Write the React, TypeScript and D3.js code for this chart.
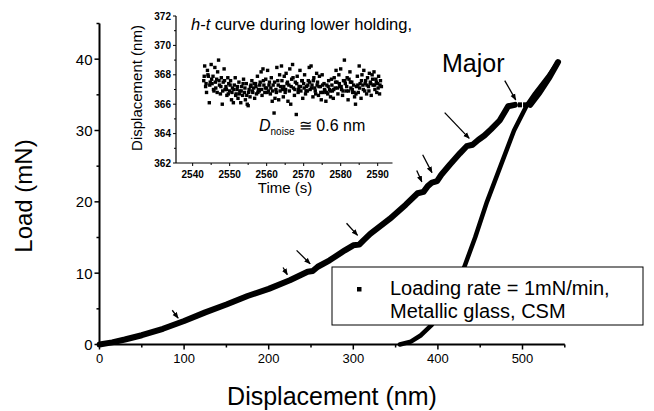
import React from "react";
import * as d3 from "d3";

// ---------- Data ----------
// Main loading curve (displacement nm, load mN)
const loadingPart1: [number, number][] = [
  [0, 0], [15, 0.3], [30, 0.7], [50, 1.3], [75, 2.2], [100, 3.3], [125, 4.5], [150, 5.6],
  [175, 6.8], [200, 7.8], [225, 9.0], [246, 10.2], [252, 10.3], [258, 10.9], [272, 11.8],
  [290, 13.2], [300, 13.9], [307, 14.0], [312, 14.6], [320, 15.5], [343, 17.6], [362, 19.6],
  [376, 21.2], [383, 21.4], [388, 22.2], [393, 22.7], [399, 22.9], [404, 23.8], [414, 25.2],
  [426, 26.8], [434, 27.8], [441, 28.0], [448, 28.7], [455, 29.3], [463, 30.2], [473, 31.4],
  [479, 32.6], [483, 33.4], [491, 33.6],
];
const popInDots: [number, number][] = [[497, 33.6], [503, 33.6]];
const loadingPart2: [number, number][] = [
  [509, 33.6], [520, 35.3], [532, 37.5], [542, 39.6],
];
const unloading: [number, number][] = [
  [542, 39.6], [530, 37.5], [515, 35.2], [505, 33.5], [490, 30.0], [474, 25.0], [458, 20.0],
  [444, 15.0], [431, 10.8], [418, 7.5], [405, 4.8], [393, 2.8], [380, 1.3], [368, 0.4], [355, 0],
];
// Arrows: [tailX, tailY, tipX, tipY] in data units
const arrows: [number, number, number, number][] = [
  [86, 4.8, 93, 3.7],
  [217, 10.8, 222, 9.8],
  [233, 13.2, 249, 11.3],
  [292, 17.0, 305, 15.3],
  [375, 24.4, 381, 22.8],
  [382, 26.6, 393, 24.1],
  [408, 32.5, 437, 28.9],
  [479, 37.0, 492, 34.3],
];
const xTicks = [0, 100, 200, 300, 400, 500];
const xMinorTicks = [50, 150, 250, 350, 450, 550];
const yTicks = [0, 10, 20, 30, 40];
const yMinorTicks = [5, 15, 25, 35, 45];

// Inset: h-t during lower holding (time s, displacement nm)
const noise: [number, number][] = [
  [2543.0, 367.6], [2543.25, 368.6], [2543.5, 367.2], [2543.75, 366.8],
  [2544.0, 368.3], [2544.25, 367.9], [2544.5, 366.1], [2544.75, 367.5],
  [2545.0, 368.7], [2545.25, 367.4], [2545.5, 367.9], [2545.75, 366.9],
  [2546.0, 368.5], [2546.25, 367.1], [2546.5, 367.7], [2546.75, 368.2],
  [2547.0, 369.0], [2547.25, 367.3], [2547.5, 366.7], [2547.75, 367.8],
  [2548.0, 366.0], [2548.25, 367.5], [2548.5, 368.4], [2548.75, 367.0],
  [2549.0, 367.2], [2549.25, 366.6], [2549.5, 367.8], [2549.75, 367.4],
  [2550.0, 366.9], [2550.25, 367.6], [2550.5, 366.3], [2550.75, 367.1],
  [2551.0, 366.1], [2551.25, 367.3], [2551.5, 367.8], [2551.75, 366.7],
  [2552.0, 367.0], [2552.25, 366.4], [2552.5, 367.5], [2552.75, 366.9],
  [2553.0, 366.1], [2553.25, 367.2], [2553.5, 366.6], [2553.75, 367.7],
  [2554.0, 366.8], [2554.25, 366.3], [2554.5, 367.4], [2554.75, 366.0],
  [2555.0, 365.9], [2555.25, 367.0], [2555.5, 366.5], [2555.75, 367.3],
  [2556.0, 367.6], [2556.25, 366.8], [2556.5, 367.1], [2556.75, 366.4],
  [2557.0, 367.4], [2557.25, 366.7], [2557.5, 367.9], [2557.75, 367.0],
  [2558.0, 366.9], [2558.25, 367.5], [2558.5, 368.2], [2558.75, 366.6],
  [2559.0, 368.4], [2559.25, 367.3], [2559.5, 366.8], [2559.75, 367.7],
  [2560.0, 367.1], [2560.25, 368.3], [2560.5, 366.9], [2560.75, 367.5],
  [2561.0, 366.7], [2561.25, 367.8], [2561.5, 366.2], [2561.75, 367.3],
  [2562.0, 365.4], [2562.25, 366.4], [2562.5, 367.0], [2562.75, 368.5],
  [2563.0, 367.6], [2563.25, 366.3], [2563.5, 368.0], [2563.75, 367.2],
  [2564.0, 368.6], [2564.25, 367.0], [2564.5, 366.5], [2564.75, 367.9],
  [2565.0, 366.8], [2565.25, 368.1], [2565.5, 367.4], [2565.75, 366.2],
  [2566.0, 367.3], [2566.25, 368.4], [2566.5, 366.0], [2566.75, 367.7],
  [2567.0, 368.7], [2567.25, 367.1], [2567.5, 366.6], [2567.75, 367.5],
  [2568.0, 365.3], [2568.25, 367.9], [2568.5, 366.8], [2568.75, 367.2],
  [2569.0, 368.3], [2569.25, 366.9], [2569.5, 367.6], [2569.75, 366.4],
  [2570.0, 367.4], [2570.25, 368.0], [2570.5, 366.7], [2570.75, 367.2],
  [2571.0, 366.9], [2571.25, 367.6], [2571.5, 368.5], [2571.75, 367.0],
  [2572.0, 368.6], [2572.25, 367.3], [2572.5, 366.5], [2572.75, 367.8],
  [2573.0, 367.1], [2573.25, 366.7], [2573.5, 368.1], [2573.75, 367.5],
  [2574.0, 366.6], [2574.25, 367.9], [2574.5, 367.2], [2574.75, 366.3],
  [2575.0, 368.0], [2575.25, 366.8], [2575.5, 367.4], [2575.75, 366.9],
  [2576.0, 366.2], [2576.25, 367.3], [2576.5, 366.7], [2576.75, 367.6],
  [2577.0, 367.0], [2577.25, 366.5], [2577.5, 367.7], [2577.75, 366.9],
  [2578.0, 366.4], [2578.25, 367.8], [2578.5, 367.1], [2578.75, 368.3],
  [2579.0, 367.5], [2579.25, 366.7], [2579.5, 368.0], [2579.75, 367.2],
  [2580.0, 368.4], [2580.25, 367.0], [2580.5, 366.6], [2580.75, 367.6],
  [2581.0, 369.0], [2581.25, 367.4], [2581.5, 366.9], [2581.75, 367.8],
  [2582.0, 366.3], [2582.25, 367.7], [2582.5, 368.2], [2582.75, 367.1],
  [2583.0, 367.5], [2583.25, 366.8], [2583.5, 367.3], [2583.75, 366.5],
  [2584.0, 366.0], [2584.25, 367.2], [2584.5, 367.9], [2584.75, 366.8],
  [2585.0, 368.6], [2585.25, 367.4], [2585.5, 366.4], [2585.75, 368.0],
  [2586.0, 367.3], [2586.25, 368.3], [2586.5, 366.9], [2586.75, 367.6],
  [2587.0, 366.7], [2587.25, 367.8], [2587.5, 367.2], [2587.75, 368.1],
  [2588.0, 367.5], [2588.25, 366.6], [2588.5, 368.0], [2588.75, 367.3],
  [2589.0, 368.2], [2589.25, 367.0], [2589.5, 367.7], [2589.75, 366.8],
  [2590.0, 367.4], [2590.25, 367.9], [2590.5, 366.7], [2590.75, 367.6],
  [2591.0, 367.2],
];
const noiseDense: [number, number][] = [
  [2543.125, 367.9], [2543.625, 367.4], [2544.125, 368.0], [2544.625, 367.3],
  [2545.125, 367.7], [2545.625, 367.0], [2546.125, 367.5], [2546.625, 366.8],
  [2547.125, 367.6], [2547.625, 367.2], [2548.125, 366.9], [2548.625, 367.6],
  [2549.125, 367.0], [2549.625, 366.7], [2550.125, 367.3], [2550.625, 366.8],
  [2551.125, 367.0], [2551.625, 366.6], [2552.125, 367.2], [2552.625, 366.7],
  [2553.125, 366.9], [2553.625, 367.4], [2554.125, 367.1], [2554.625, 366.6],
  [2555.125, 366.8], [2555.625, 367.2], [2556.125, 366.9], [2556.625, 367.4],
  [2557.125, 367.2], [2557.625, 366.8], [2558.125, 367.3], [2558.625, 367.0],
  [2559.125, 367.6], [2559.625, 367.1], [2560.125, 366.8], [2560.625, 367.3],
  [2561.125, 367.1], [2561.625, 366.9], [2562.125, 367.5], [2562.625, 366.8],
  [2563.125, 367.3], [2563.625, 366.9], [2564.125, 367.6], [2564.625, 367.2],
  [2565.125, 367.0], [2565.625, 367.5], [2566.125, 366.9], [2566.625, 367.2],
  [2567.125, 367.8], [2567.625, 367.0], [2568.125, 367.4], [2568.625, 367.0],
  [2569.125, 367.2], [2569.625, 367.6], [2570.125, 367.1], [2570.625, 366.9],
  [2571.125, 367.3], [2571.625, 367.5], [2572.125, 367.1], [2572.625, 367.6],
  [2573.125, 366.9], [2573.625, 367.3], [2574.125, 367.2], [2574.625, 366.8],
  [2575.125, 367.3], [2575.625, 367.0], [2576.125, 366.8], [2576.625, 367.2],
  [2577.125, 366.9], [2577.625, 367.3], [2578.125, 367.0], [2578.625, 367.5],
  [2579.125, 367.1], [2579.625, 367.4], [2580.125, 367.2], [2580.625, 366.9],
  [2581.125, 367.6], [2581.625, 367.2], [2582.125, 366.9], [2582.625, 367.5],
  [2583.125, 367.0], [2583.625, 366.8], [2584.125, 366.7], [2584.625, 367.3],
  [2585.125, 367.1], [2585.625, 367.6], [2586.125, 367.0], [2586.625, 367.4],
  [2587.125, 367.3], [2587.625, 366.9], [2588.125, 367.4], [2588.625, 367.7],
  [2589.125, 367.3], [2589.625, 367.5], [2590.125, 367.1], [2590.625, 367.3],
];
const insetXTicks = [2540, 2550, 2560, 2570, 2580, 2590];
const insetXMinor = [2545, 2555, 2565, 2575, 2585];
const insetYTicks = [362, 364, 366, 368, 370, 372];
const insetYMinor = [363, 365, 367, 369, 371];

const FONT = "'Liberation Sans', Arial, Helvetica, sans-serif";

export default function App() {
  const x = d3.scaleLinear().domain([0, 550]).range([99.5, 564.8]);
  const y = d3.scaleLinear().domain([0, 45]).range([344.5, 23.5]);
  const line = d3
    .line<[number, number]>()
    .x((d) => x(d[0]))
    .y((d) => y(d[1]))
    .curve(d3.curveLinear);

  const ix = d3.scaleLinear().domain([2535.5, 2594]).range([176, 392.5]);
  const iy = d3.scaleLinear().domain([362, 372]).range([163, 16]);
  const allNoise = noise.concat(noiseDense);

  return (
    <svg
      width={654}
      height={411}
      style={{ position: "absolute", left: 0, top: 0, background: "#fff" }}
      fontFamily={FONT}
    >
      <defs>
        <marker id="ah" viewBox="0 0 10 10" refX="9" refY="5" markerWidth="5" markerHeight="5" orient="auto">
          <path d="M0,1 L10,5 L0,9 Z" fill="#000" />
        </marker>
      </defs>
      <rect x={0} y={0} width={654} height={411} fill="#fff" />

      {/* Main axes */}
      <line x1={x(0)} x2={x(550)} y1={y(0)} y2={y(0)} stroke="#000" strokeWidth={2} />
      <line x1={x(0)} x2={x(0)} y1={y(0)} y2={y(45)} stroke="#000" strokeWidth={2} />
      {xTicks.map((t) => (
        <g key={"xt" + t}>
          <line x1={x(t)} x2={x(t)} y1={y(0)} y2={y(0) + 5} stroke="#000" strokeWidth={1.5} />
          <text x={x(t)} y={y(0) + 18} fontSize={13} textAnchor="middle">{t}</text>
        </g>
      ))}
      {xMinorTicks.map((t) => (
        <line key={"xm" + t} x1={x(t)} x2={x(t)} y1={y(0)} y2={y(0) + 3} stroke="#000" strokeWidth={1.5} />
      ))}
      {yTicks.map((t) => (
        <g key={"yt" + t}>
          <line x1={x(0) - 5} x2={x(0)} y1={y(t)} y2={y(t)} stroke="#000" strokeWidth={1.5} />
          <text x={x(0) - 7} y={y(t) + 5.5} fontSize={15} textAnchor="end">{t}</text>
        </g>
      ))}
      {yMinorTicks.map((t) => (
        <line key={"ym" + t} x1={x(0) - 3} x2={x(0)} y1={y(t)} y2={y(t)} stroke="#000" strokeWidth={1.5} />
      ))}
      <text x={332} y={405} fontSize={25} textAnchor="middle">Displacement (nm)</text>
      <text transform="translate(32,196) rotate(-90)" fontSize={24} textAnchor="middle">Load (mN)</text>

      {/* Curves */}
      <path d={line(loadingPart1) || ""} fill="none" stroke="#000" strokeWidth={6} strokeLinejoin="round" strokeLinecap="round" />
      {popInDots.map((p, i) => (
        <rect key={"pd" + i} x={x(p[0]) - 2} y={y(p[1]) - 2.5} width={4} height={5} fill="#000" />
      ))}
      <path d={line(loadingPart2) || ""} fill="none" stroke="#000" strokeWidth={6} strokeLinejoin="round" strokeLinecap="round" />
      <path d={line(unloading) || ""} fill="none" stroke="#000" strokeWidth={4.5} strokeLinejoin="round" strokeLinecap="round" />

      {/* Arrows */}
      {arrows.map((a, i) => (
        <line key={"ar" + i} x1={x(a[0])} y1={y(a[1])} x2={x(a[2])} y2={y(a[3])} stroke="#000" strokeWidth={1.3} markerEnd="url(#ah)" />
      ))}
      <text x={442} y={72} fontSize={25}>Major</text>

      {/* Legend */}
      <rect x={332} y={267} width={311} height={58} fill="#fff" stroke="#000" strokeWidth={1} />
      <rect x={357} y={287} width={4.5} height={4.5} fill="#000" />
      <text x={390} y={295} fontSize={20}>Loading rate = 1mN/min,</text>
      <text x={390} y={318} fontSize={20}>Metallic glass, CSM</text>

      {/* Inset */}
      <line x1={ix.range()[0]} x2={ix.range()[1]} y1={iy(362)} y2={iy(362)} stroke="#000" strokeWidth={1.2} />
      <line x1={ix.range()[0]} x2={ix.range()[0]} y1={iy(362)} y2={iy(372)} stroke="#000" strokeWidth={1.2} />
      {insetXTicks.map((t) => (
        <g key={"ixt" + t}>
          <line x1={ix(t)} x2={ix(t)} y1={iy(362)} y2={iy(362) + 3} stroke="#000" />
          <text x={ix(t)} y={178} fontSize={10} fontWeight="bold" textAnchor="middle">{t}</text>
        </g>
      ))}
      {insetXMinor.map((t) => (
        <line key={"ixm" + t} x1={ix(t)} x2={ix(t)} y1={iy(362)} y2={iy(362) + 2} stroke="#000" />
      ))}
      {insetYTicks.map((t) => (
        <g key={"iyt" + t}>
          <line x1={ix.range()[0] - 3} x2={ix.range()[0]} y1={iy(t)} y2={iy(t)} stroke="#000" />
          <text x={ix.range()[0] - 5} y={iy(t) + 3.5} fontSize={10} fontWeight="bold" textAnchor="end">{t}</text>
        </g>
      ))}
      {insetYMinor.map((t) => (
        <line key={"iym" + t} x1={ix.range()[0] - 2} x2={ix.range()[0]} y1={iy(t)} y2={iy(t)} stroke="#000" />
      ))}
      {allNoise.map((p, i) => (
        <rect key={"n" + i} x={ix(p[0]) - 1.7} y={iy(p[1]) - 1.7} width={3.4} height={3.4} fill="#000" />
      ))}
      <text x={285} y={193} fontSize={15} textAnchor="middle">Time (s)</text>
      <text transform="translate(142,88) rotate(-90)" fontSize={15} textAnchor="middle">Displacement (nm)</text>
      <text x={191} y={30} fontSize={16.5}>
        <tspan fontStyle="italic">h</tspan>-<tspan fontStyle="italic">t</tspan> curve during lower holding,
      </text>
      <text x={259} y={131} fontSize={16}>
        <tspan fontStyle="italic">D</tspan>
        <tspan fontSize={10} dy={4}>noise</tspan>
        <tspan dy={-4}> ≅ 0.6 nm</tspan>
      </text>
    </svg>
  );
}
